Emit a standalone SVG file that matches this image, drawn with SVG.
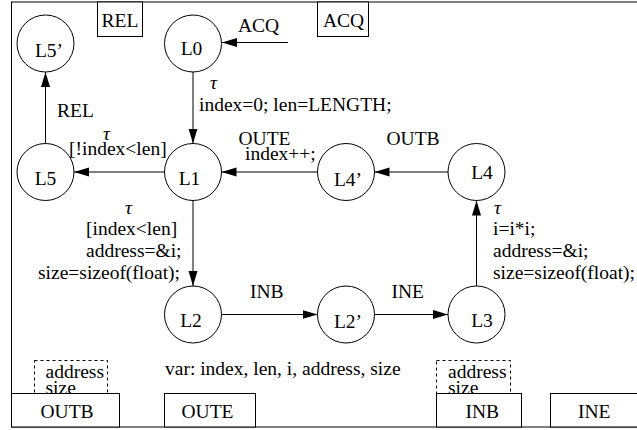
<svg xmlns="http://www.w3.org/2000/svg" width="637" height="430" viewBox="0 0 637 430">
  <style>
    text { font-family: "Liberation Serif", "Times New Roman", serif; font-size: 19.5px; fill: #000; }
    .tau { font-style: italic; }
    .loc { fill: #fff; stroke: #000; stroke-width: 1; }
    .box { fill: #fff; stroke: #000; stroke-width: 1; }
    .dash { fill: none; stroke: #000; stroke-width: 1; stroke-dasharray: 3 3; }
    .edge { fill: none; stroke: #000; stroke-width: 1; marker-end: url(#head); }
    .mid { text-anchor: middle; }
  </style>
  <defs>
    <marker id="head" markerUnits="userSpaceOnUse" markerWidth="16" markerHeight="10" refX="15" refY="4.5" orient="auto">
      <path d="M0,0 L15,4.5 L0,9 Z" fill="#000"/>
    </marker>
  </defs>

  <rect width="637" height="430" fill="#fff"/>

  <!-- outer frame of the automaton -->
  <rect x="11.5" y="2" width="640" height="425" fill="none" stroke="#000" stroke-width="1"/>

  <!-- channel boxes along the top edge -->
  <g id="chan-rel-top">
    <rect class="box" x="97.5" y="2" width="45" height="34.5"/>
    <text x="101.5" y="27">REL</text>
  </g>
  <g id="chan-acq-top">
    <rect class="box" x="317.5" y="2" width="51" height="34.5"/>
    <text x="323" y="27">ACQ</text>
  </g>

  <!-- transitions -->
  <g id="connectors">
    <line class="edge" x1="288" y1="42.5" x2="222" y2="42.5"/>
    <line class="edge" x1="193" y1="72" x2="193" y2="143.5"/>
    <line class="edge" x1="164.5" y1="172" x2="74" y2="172"/>
    <line class="edge" x1="317.5" y1="172" x2="221.5" y2="172"/>
    <line class="edge" x1="448" y1="172" x2="374.5" y2="172"/>
    <line class="edge" x1="45.5" y1="143.5" x2="45.5" y2="72"/>
    <line class="edge" x1="193" y1="200.5" x2="193" y2="286"/>
    <line class="edge" x1="221.5" y1="314.5" x2="317.5" y2="314.5"/>
    <line class="edge" x1="374.5" y1="314.5" x2="448" y2="314.5"/>
    <line class="edge" x1="476.5" y1="286" x2="476.5" y2="200.5"/>
  </g>

  <!-- locations -->
  <g id="L5p">
    <circle class="loc" cx="45.5" cy="43.5" r="28.5"/>
    <text class="mid" x="49" y="57">L5’</text>
  </g>
  <g id="L0">
    <circle class="loc" cx="193" cy="43.5" r="28.5"/>
    <text class="mid" x="191.5" y="55">L0</text>
  </g>
  <g id="L5">
    <circle class="loc" cx="45.5" cy="172" r="28.5"/>
    <text class="mid" x="45.5" y="185">L5</text>
  </g>
  <g id="L1">
    <circle class="loc" cx="193" cy="172" r="28.5"/>
    <text class="mid" x="189.5" y="185">L1</text>
  </g>
  <g id="L4p">
    <circle class="loc" cx="346" cy="172" r="28.5"/>
    <text class="mid" x="348" y="186">L4’</text>
  </g>
  <g id="L4">
    <circle class="loc" cx="476.5" cy="172" r="28.5"/>
    <text class="mid" x="482" y="179">L4</text>
  </g>
  <g id="L2">
    <circle class="loc" cx="193" cy="314.5" r="28.5"/>
    <text class="mid" x="191" y="326.5">L2</text>
  </g>
  <g id="L2p">
    <circle class="loc" cx="346" cy="314.5" r="28.5"/>
    <text class="mid" x="348" y="328">L2’</text>
  </g>
  <g id="L3">
    <circle class="loc" cx="476.5" cy="314.5" r="28.5"/>
    <text class="mid" x="482" y="326.5">L3</text>
  </g>

  <!-- transition labels -->
  <g id="labels">
    <text x="238" y="32">ACQ</text>

    <text class="tau" x="210" y="88.5">τ</text>
    <text x="199" y="111">index=0; len=LENGTH;</text>

    <text x="57" y="116.5">REL</text>

    <text class="tau" x="103" y="139.5">τ</text>
    <text x="69" y="155">[!index&lt;len]</text>

    <text x="238.5" y="145">OUTE</text>
    <text x="245" y="160">index++;</text>

    <text x="386.5" y="145">OUTB</text>

    <text class="tau" x="125" y="213.5">τ</text>
    <text x="86" y="235">[index&lt;len]</text>
    <text x="86" y="257">address=&amp;i;</text>
    <text x="38" y="279">size=sizeof(float);</text>

    <text class="tau" x="494" y="213.5">τ</text>
    <text x="493" y="235">i=i*i;</text>
    <text x="493" y="257">address=&amp;i;</text>
    <text x="493" y="279">size=sizeof(float);</text>

    <text x="250" y="298">INB</text>
    <text x="391.5" y="298">INE</text>

    <text x="165" y="375">var: index, len, i, address, size</text>
  </g>

  <!-- shared buffers above the output channels -->
  <g id="buf-out">
    <rect class="dash" x="34.5" y="360.5" width="73" height="33"/>
    <text x="45.5" y="378">address</text>
    <text x="45.5" y="394">size</text>
  </g>
  <g id="buf-in">
    <rect class="dash" x="436.5" y="360.5" width="74" height="33"/>
    <text x="448" y="378">address</text>
    <text x="448" y="394">size</text>
  </g>

  <!-- channel boxes along the bottom edge -->
  <g id="chan-outb">
    <rect class="box" x="11.5" y="393.5" width="108" height="33.5"/>
    <text x="40.5" y="418">OUTB</text>
  </g>
  <g id="chan-oute">
    <rect class="box" x="164.5" y="393.5" width="91" height="33.5"/>
    <text x="181.5" y="418">OUTE</text>
  </g>
  <g id="chan-inb">
    <rect class="box" x="436.5" y="393.5" width="85" height="33.5"/>
    <text x="465.5" y="418">INB</text>
  </g>
  <g id="chan-ine">
    <rect class="box" x="550.5" y="393.5" width="110" height="33.5"/>
    <text x="578" y="418">INE</text>
  </g>
</svg>
